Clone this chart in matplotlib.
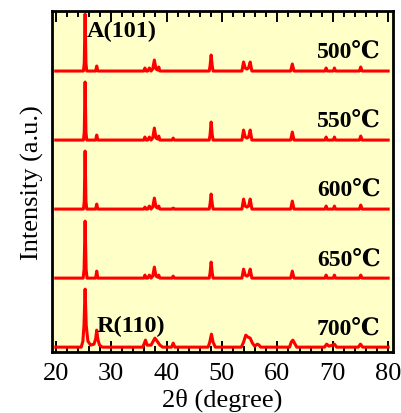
import matplotlib
matplotlib.use("Agg")
import matplotlib.pyplot as plt
from matplotlib.ticker import MultipleLocator

# ---- data ----
temps = ["500℃", "550℃", "600℃", "650℃", "700℃"]
offsets = [276, 207, 138, 69, 0]

x_500 = [20, 25.0, 25.15, 25.3, 25.45, 25.6, 27.2, 27.4, 27.6, 35.9, 36.1, 36.3, 36.6, 36.9, 37.2, 37.5,
         37.8, 38.1, 38.4, 38.6, 38.8, 47.7, 47.85, 48.05, 48.25, 48.4, 53.6, 53.9, 54.2, 54.5, 54.8,
         55.1, 55.4, 62.4, 62.7, 63.0, 68.6, 68.8, 69.0, 70.1, 70.3, 70.5, 74.8, 75.05, 75.3, 80]
y_500 = [0, 0, 8, 57, 8, 0, 0, 5, 0, 0, 3, 0, 0, 3, 0, 2,
         11, 2, 1, 4, 0, 0, 5, 16, 5, 0, 0, 9, 3, 2, 3,
         9, 0, 0, 7, 0, 0, 3, 0, 0, 3, 0, 0, 4, 0, 0]

x_550 = [20, 25.0, 25.15, 25.3, 25.45, 25.6, 27.2, 27.4, 27.6, 35.9, 36.1, 36.3, 36.6, 36.9, 37.2, 37.5,
         37.8, 38.1, 38.4, 38.6, 38.8, 41.0, 41.2, 41.4, 47.7, 47.85, 48.05, 48.25, 48.4, 53.6, 53.9,
         54.2, 54.5, 54.8, 55.1, 55.4, 62.4, 62.7, 63.0, 68.6, 68.8, 69.0, 70.1, 70.3, 70.5, 74.8,
         75.05, 75.3, 80]
y_550 = [0, 0, 8, 58, 8, 0, 0, 5, 0, 0, 3, 0, 0, 3, 0, 2,
         12, 2, 1, 4, 0, 0, 2, 0, 0, 5, 18, 5, 0, 0, 10,
         3, 2, 3, 10, 0, 0, 8, 0, 0, 3, 0, 0, 3, 0, 0,
         4, 0, 0]

x_600 = [20, 25.0, 25.15, 25.3, 25.45, 25.6, 27.2, 27.4, 27.6, 35.9, 36.1, 36.3, 36.6, 36.9, 37.2, 37.5,
         37.8, 38.1, 38.4, 38.6, 38.8, 41.0, 41.2, 41.4, 47.7, 47.85, 48.05, 48.25, 48.4, 53.6, 53.9,
         54.2, 54.5, 54.8, 55.1, 55.4, 62.4, 62.7, 63.0, 68.6, 68.8, 69.0, 70.1, 70.3, 70.5, 74.8,
         75.05, 75.3, 80]
y_600 = [0, 0, 8, 58, 8, 0, 0, 5, 0, 0, 2, 0, 0, 3, 0, 2,
         11, 2, 1, 3, 0, 0, 1, 0, 0, 5, 15, 5, 0, 0, 10,
         3, 2, 3, 10, 0, 0, 8, 0, 0, 3, 0, 0, 3, 0, 0,
         4, 0, 0]

x_650 = [20, 24.95, 25.12, 25.3, 25.48, 25.65, 27.2, 27.4, 27.6, 35.9, 36.1, 36.3, 36.6, 36.9, 37.2, 37.5,
         37.8, 38.1, 38.4, 38.6, 38.8, 41.0, 41.2, 41.4, 47.7, 47.85, 48.05, 48.25, 48.4, 53.6, 53.9,
         54.2, 54.5, 54.8, 55.1, 55.4, 62.4, 62.7, 63.0, 68.6, 68.8, 69.0, 70.1, 70.3, 70.5, 74.8,
         75.05, 75.3, 80]
y_650 = [0, 0, 9, 57, 9, 0, 0, 7, 0, 0, 3, 0, 0, 3, 0, 2,
         11, 2, 1, 3, 0, 0, 2, 0, 0, 5, 16, 5, 0, 0, 9,
         3, 2, 3, 9, 0, 0, 7, 0, 0, 3, 0, 0, 3, 0, 0,
         3, 0, 0]

x_700 = [20, 24.6, 24.9, 25.1, 25.3, 25.5, 25.8, 26.3, 26.9, 27.2, 27.4, 27.6, 27.9, 28.4, 35.7, 36.0,
         36.2, 36.5, 37.2, 37.6, 37.9, 38.3, 38.8, 39.3, 40.9, 41.2, 41.5, 47.5, 47.8, 48.1, 48.4, 48.8,
         53.5, 53.9, 54.3, 54.7, 55.1, 55.5, 55.9, 56.4, 56.7, 57.0, 62.2, 62.5, 62.8, 63.1, 63.5,
         68.5, 68.9, 69.3, 70.0, 70.3, 70.7, 74.6, 75.0, 75.4, 80]
y_700 = [0, 0, 6, 22, 58, 22, 6, 2, 3, 8, 17, 8, 2, 0, 0, 4,
         7, 2, 2, 6, 9, 6, 2, 0, 0, 4, 0, 0, 5, 13, 5, 0,
         0, 5, 12, 10, 9, 4, 1, 3, 2, 0, 0, 5, 7, 4, 0,
         0, 3, 1, 2, 3, 0, 0, 3, 0, 0]

curves_x = [x_500, x_550, x_600, x_650, x_700]
curves_y = [y_500, y_550, y_600, y_650, y_700]

# ---- figure ----
serif = ["Liberation Serif", "DejaVu Serif", "Noto Sans CJK SC"]
plt.rcParams["font.family"] = serif

fig = plt.figure(figsize=(4.02, 4.14), dpi=100)
ax = fig.add_axes([0.129, 0.147, 0.849, 0.824])
ax.set_facecolor("#FFFFC8")

for xs, ys, off in zip(curves_x, curves_y, offsets):
    ax.plot(xs, [v + off for v in ys], color="#FF0000", lw=2.2, solid_joinstyle="round")

ax.set_xlim(19.3, 80.9)
ax.set_ylim(-5, 336)
ax.xaxis.set_major_locator(MultipleLocator(10))
ax.xaxis.set_minor_locator(MultipleLocator(2))
ax.set_xticks([20, 30, 40, 50, 60, 70, 80])
ax.tick_params(axis="x", which="both", direction="in", top=True, bottom=True,
               labelsize=19, width=1.4, pad=7)
ax.tick_params(axis="x", which="major", length=8)
ax.tick_params(axis="x", which="minor", length=4.5)
ax.set_yticks([])
for s in ax.spines.values():
    s.set_linewidth(2.0)

ax.set_xlabel("2θ (degree)", fontsize=19, labelpad=3)
ax.set_ylabel("Intensity (a.u.)", fontsize=19, labelpad=6)

label_y = [290, 221, 152, 82, 13]
for t, ly in zip(temps, label_y):
    ax.text(78.6, ly, t, ha="right", va="baseline", fontsize=17, fontweight="bold", family=serif)

ax.text(25.6, 311, "A(101)", ha="left", va="baseline", fontsize=17.5, fontweight="bold", family=serif)
ax.text(27.4, 16, "R(110)", ha="left", va="baseline", fontsize=17.5, fontweight="bold", family=serif)

fig.savefig("out.png", dpi=100)
